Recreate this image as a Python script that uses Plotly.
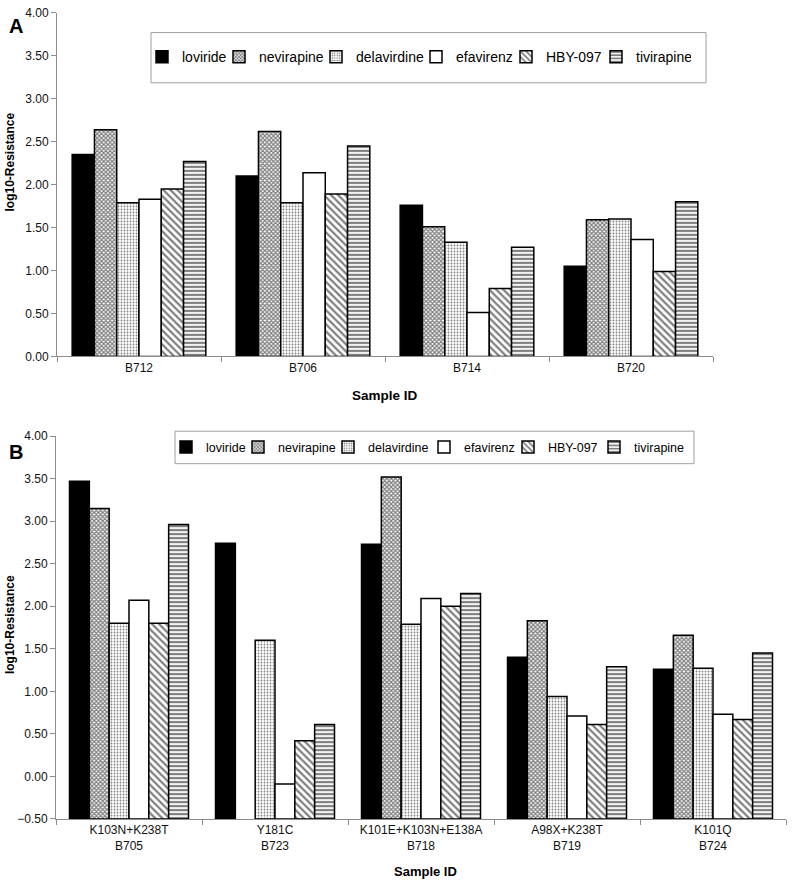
import plotly.graph_objects as go

# ---------------- data ----------------
drugs = ["loviride", "nevirapine", "delavirdine", "efavirenz", "HBY-097", "tivirapine"]

samples_a = ["B712", "B706", "B714", "B720"]
loviride_a = [2.35, 2.10, 1.76, 1.05]
nevirapine_a = [2.64, 2.62, 1.51, 1.59]
delavirdine_a = [1.79, 1.79, 1.33, 1.60]
efavirenz_a = [1.83, 2.14, 0.51, 1.36]
hby097_a = [1.95, 1.89, 0.79, 0.99]
tivirapine_a = [2.27, 2.45, 1.27, 1.80]

mutations_b = ["K103N+K238T", "Y181C", "K101E+K103N+E138A", "A98X+K238T", "K101Q"]
samples_b = ["B705", "B723", "B718", "B719", "B724"]
loviride_b = [3.47, 2.74, 2.73, 1.40, 1.26]
nevirapine_b = [3.15, None, 3.52, 1.83, 1.66]
delavirdine_b = [1.80, 1.60, 1.79, 0.94, 1.27]
efavirenz_b = [2.07, -0.09, 2.09, 0.71, 0.73]
hby097_b = [1.80, 0.42, 2.00, 0.61, 0.67]
tivirapine_b = [2.96, 0.61, 2.15, 1.29, 1.45]

y_ticks = [0.0, 0.5, 1.0, 1.5, 2.0, 2.5, 3.0, 3.5, 4.0]
y_ticks_b = [-0.5] + y_ticks

values_a = [loviride_a, nevirapine_a, delavirdine_a, efavirenz_a, hby097_a, tivirapine_a]
values_b = [loviride_b, nevirapine_b, delavirdine_b, efavirenz_b, hby097_b, tivirapine_b]

# ---------------- styles ----------------
FONT = "Liberation Sans, Arial, sans-serif"
W, H = 800, 886
styles = {
    "loviride": dict(color="black", pattern=dict(shape="")),
    "nevirapine": dict(color="white", pattern=dict(shape="x", size=3, solidity=0.65, fgcolor="black", bgcolor="white")),
    "delavirdine": dict(color="white", pattern=dict(shape=".", size=3, solidity=0.3, fgcolor="black", bgcolor="white")),
    "efavirenz": dict(color="white", pattern=dict(shape="")),
    "HBY-097": dict(color="white", pattern=dict(shape="\\", size=5, solidity=0.45, fgcolor="black", bgcolor="white")),
    "tivirapine": dict(color="white", pattern=dict(shape="-", size=4, solidity=0.55, fgcolor="black", bgcolor="white")),
}
# legend entry widths (px) – spacing of legend items
lw_a = {"loviride": 32, "nevirapine": 52, "delavirdine": 55, "efavirenz": 45, "HBY-097": 45, "tivirapine": 50}
lw_b = {"loviride": 27, "nevirapine": 45, "delavirdine": 51, "efavirenz": 39, "HBY-097": 41, "tivirapine": 45}

base_b = -0.5
xlabels_b = [f"{m}<br>{s}" for m, s in zip(mutations_b, samples_b)]

fig = go.Figure()
for name, va in zip(drugs, values_a):
    st = styles[name]
    fig.add_trace(go.Bar(
        x=samples_a, y=va, name=name, xaxis="x", yaxis="y", legend="legend",
        legendwidth=lw_a[name],
        marker=dict(color=st["color"], pattern=st["pattern"], line=dict(color="black", width=1.5)),
    ))
for name, vb in zip(drugs, values_b):
    st = styles[name]
    fig.add_trace(go.Bar(
        x=xlabels_b, y=[None if v is None else v - base_b for v in vb], base=base_b,
        name=name, xaxis="x2", yaxis="y2", legend="legend2",
        legendwidth=lw_b[name],
        marker=dict(color=st["color"], pattern=st["pattern"], line=dict(color="black", width=1.5)),
    ))


def px(x):
    return x / W


def py(y):
    return 1 - y / H


axis_common = dict(showline=True, linecolor="#8c8c8c", linewidth=1, ticks="outside",
                   tickcolor="#8c8c8c", ticklen=5, showgrid=False, zeroline=False,
                   tickfont=dict(family=FONT, size=12, color="#111"))


def label(text, x, y, size, angle=0):
    return dict(text=text, x=px(x), y=py(y), xref="paper", yref="paper", showarrow=False,
                xanchor="center", yanchor="middle", textangle=angle,
                font=dict(family=FONT, size=size, color="black"))


fig.update_layout(
    width=W, height=H, margin=dict(l=0, r=0, t=0, b=0),
    paper_bgcolor="white", plot_bgcolor="rgba(0,0,0,0)",
    barmode="group", bargap=0.185, bargroupgap=0,
    font=dict(family=FONT, color="#111"),
    xaxis=dict(domain=[px(57), px(713)], anchor="y", tickson="boundaries", **axis_common),
    yaxis=dict(domain=[py(355), py(6)], anchor="x", range=[0, 4], tickvals=y_ticks,
               tickformat=".2f", **axis_common),
    xaxis2=dict(domain=[px(56), px(786)], anchor="y2", tickson="boundaries", **axis_common),
    yaxis2=dict(domain=[py(825), py(436)], anchor="x2", range=[-0.5, 4], tickvals=y_ticks_b,
                tickformat=".2f", **axis_common),
    legend=dict(orientation="h", x=px(142), y=py(51), xanchor="left", yanchor="middle",
                bgcolor="rgba(0,0,0,0)", font=dict(family=FONT, size=14, color="black"),
                itemwidth=30, traceorder="normal", itemclick=False),
    legend2=dict(orientation="h", x=px(166), y=py(447.5), xanchor="left", yanchor="middle",
                 bgcolor="rgba(0,0,0,0)", font=dict(family=FONT, size=12.5, color="black"),
                 itemwidth=30, traceorder="normal", itemclick=False),
    shapes=[
        dict(type="rect", xref="paper", yref="paper", x0=px(151), x1=px(706), y0=py(77), y1=py(26),
             line=dict(color="#a0a0a0", width=1), fillcolor="white", layer="below"),
        dict(type="rect", xref="paper", yref="paper", x0=px(175), x1=px(694), y0=py(464), y1=py(431),
             line=dict(color="#a0a0a0", width=1), fillcolor="white", layer="below"),
    ],
    annotations=[
        label("<b>A</b>", 16, 19, 20),
        label("<b>B</b>", 16, 452, 20),
        label("<b>log10-Resistance</b>", 10, 158, 12, -90),
        label("<b>log10-Resistance</b>", 10, 628, 12, -90),
        label("<b>Sample ID</b>", 385, 395, 13.5),
        label("<b>Sample ID</b>", 425, 878, 13),
    ],
)

fig.write_html("out.html", config={"displayModeBar": False},
               post_script="document.body.style.margin='0';")
